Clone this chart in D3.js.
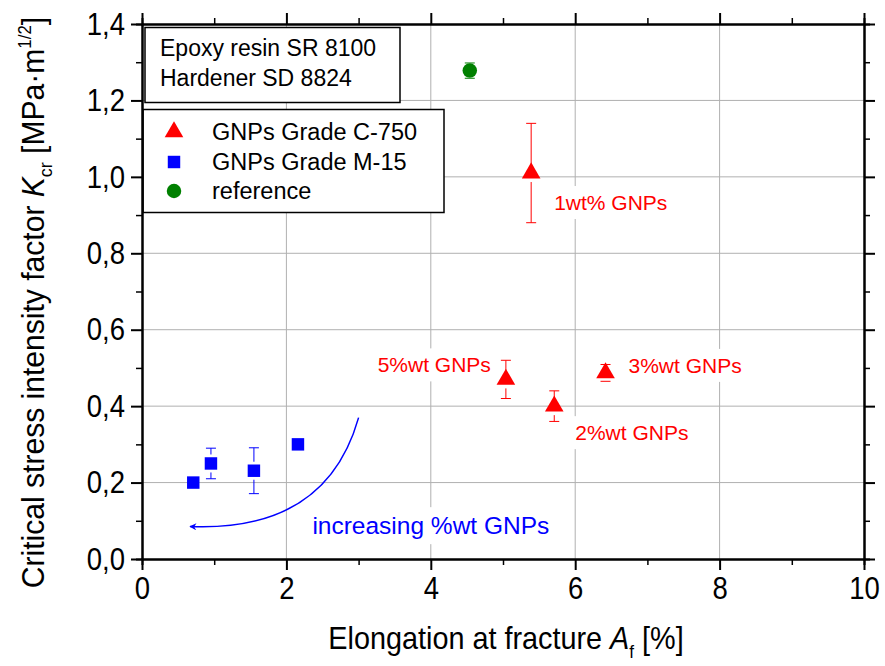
<!DOCTYPE html>
<html>
<head>
<meta charset="utf-8">
<script src="https://cdn.jsdelivr.net/npm/d3@7/dist/d3.min.js"></script>
<style>
body{margin:0;background:#fff}
text{font-family:Arial,"Liberation Sans",Helvetica,sans-serif}
</style>
</head>
<body>
<script>
// values
let c750X=[5.39,5.04,5.71,6.42]
let c750Y=[1.01,0.47,0.40,0.487]
let c750Err=[0.13,0.05,0.04,0.022]
let c750Labels=['1wt% GNPs','5%wt GNPs','2%wt GNPs','3%wt GNPs']

let m15X=[0.71,0.955,1.55,2.16]
let m15Y=[0.20,0.25,0.231,0.30]
let m15Err=[0.01,0.04,0.06,0.01]

let refX=[4.54]
let refY=[1.278]
let refErr=[0.02]

let xTicks=[0,2,4,6,8,10]
let xMinor=[1,3,5,7,9]
let yTicks=[0,0.2,0.4,0.6,0.8,1.0,1.2,1.4]
let yMinor=[0.1,0.3,0.5,0.7,0.9,1.1,1.3]

let boxLines=['Epoxy resin SR 8100','Hardener SD 8824']
let legendNames=['GNPs Grade C-750','GNPs Grade M-15','reference']
let arrowPts=[[3.0,0.37],[2.55,0.07],[0.665,0.085]]
let arrowText='increasing %wt GNPs'

// label offsets in px from their point (layout, not data)
let labelDx=[23,-15,21,23]
let labelDy=[37,-7,34,0]
let labelAnchor=['start','end','start','start']

const W=885,H=666
const x0=142,x1=864,yb=559,yt=24
const squeeze=0.86   // the original lettering of axes is a bit condensed

var svg=d3.select('body').append('svg').attr('width',W).attr('height',H)

var xs=d3.scaleLinear().domain([0,10]).range([x0,x1])
var ys=d3.scaleLinear().domain([0,1.4]).range([yb,yt])

// grid
var grid=svg.append('g')
grid.selectAll('.gx').data(xTicks.slice(1,-1)).enter().append('line')
  .attr('x1',d=>xs(d)).attr('x2',d=>xs(d)).attr('y1',yb).attr('y2',yt)
  .attr('stroke','#b0b0b0').attr('stroke-width',1)
grid.selectAll('.gy').data(yTicks.slice(1,-1)).enter().append('line')
  .attr('y1',d=>ys(d)).attr('y2',d=>ys(d)).attr('x1',x0).attr('x2',x1)
  .attr('stroke','#b0b0b0').attr('stroke-width',1)

// point labels with white backing
function label(g,x,y,txt,anchor,color,size){
  let t=g.append('text').attr('x',x).attr('y',y).attr('text-anchor',anchor)
    .attr('fill',color).style('font-size',size+'px').text(txt)
  let b=t.node().getBBox()
  g.insert('rect','text').attr('x',b.x-4).attr('y',b.y-5).attr('width',b.width+8).attr('height',b.height+10)
    .attr('fill','#fff')
  return t
}
var labs=svg.append('g')
c750Labels.forEach(function(l,i){
  let g=labs.append('g')
  label(g,xs(c750X[i])+labelDx[i],ys(c750Y[i])+labelDy[i],l,labelAnchor[i],'#ff0000',21)
})
label(labs.append('g'),xs(2.36),ys(0.065),arrowText,'start','#0000ff',24.5)

// curved arrow
svg.append('defs').append('marker').attr('id','ah').attr('viewBox','0 0 10 10')
  .attr('refX',9).attr('refY',5).attr('markerWidth',10).attr('markerHeight',7)
  .attr('markerUnits','userSpaceOnUse').attr('orient','auto')
  .append('path').attr('d','M0,0 L10,5 L0,10 L3,5 Z').attr('fill','#0000ff')
var p=arrowPts.map(d=>[xs(d[0]),ys(d[1])])
svg.append('path').attr('d','M'+p[0]+' Q'+p[1]+' '+p[2])
  .attr('fill','none').attr('stroke','#0000ff').attr('stroke-width',1.5)
  .attr('marker-end','url(#ah)')

// boxes
var bx=svg.append('g')
bx.append('rect').attr('x',x0+3).attr('y',yt+3.5).attr('width',255).attr('height',75)
  .attr('fill','#fff').attr('stroke','#000').attr('stroke-width',1.5)
boxLines.forEach(function(l,i){
  bx.append('text').attr('x',x0+18).attr('y',yt+32+i*30).style('font-size','23px').text(l)
})
var lg=svg.append('g')
lg.append('rect').attr('x',x0+1).attr('y',yt+85.5).attr('width',301).attr('height',103)
  .attr('fill','#fff').attr('stroke','#000').attr('stroke-width',1.5)
legendNames.forEach(function(l,i){
  lg.append('text').attr('x',x0+70).attr('y',yt+116+i*29.5).style('font-size','23.5px').text(l)
})
var tri=d3.symbol().type(d3.symbolTriangle).size(150)
var sq=d3.symbol().type(d3.symbolSquare).size(155)
var ci=d3.symbol().type(d3.symbolCircle).size(165)
lg.append('path').attr('d',tri).attr('transform','translate('+(x0+32)+','+(yt+108)+')').attr('fill','#ff0000')
lg.append('path').attr('d',sq).attr('transform','translate('+(x0+32)+','+(yt+138)+')').attr('fill','#0000ff')
lg.append('path').attr('d',ci).attr('transform','translate('+(x0+32)+','+(yt+167)+')').attr('fill','#008000')

// error bars + markers
function series(xv,yv,ev,color,sym){
  let g=svg.append('g')
  xv.forEach(function(xx,i){
    let cx=xs(xx),cy=ys(yv[i]),hi=ys(yv[i]+ev[i]),lo=ys(yv[i]-ev[i])
    if(cy-hi>9){
      g.append('line').attr('x1',cx).attr('x2',cx).attr('y1',hi).attr('y2',cy-9).attr('stroke',color)
      g.append('line').attr('x1',cx).attr('x2',cx).attr('y1',lo).attr('y2',cy+9).attr('stroke',color)
    }
    g.append('line').attr('x1',cx-5).attr('x2',cx+5).attr('y1',hi).attr('y2',hi).attr('stroke',color)
    g.append('line').attr('x1',cx-5).attr('x2',cx+5).attr('y1',lo).attr('y2',lo).attr('stroke',color)
    g.append('path').attr('d',sym).attr('transform','translate('+cx+','+cy+')').attr('fill',color)
  })
}
series(c750X,c750Y,c750Err,'#ff0000',tri)
series(m15X,m15Y,m15Err,'#0000ff',sq)
series(refX,refY,refErr,'#008000',ci)

// axes on four sides, ticks outward
function styleAx(g,w){
  g.select('.domain').attr('stroke-width',2)
  g.selectAll('.tick line').attr('stroke-width',w)
}
let fmtY=d=>d.toFixed(1).replace('.',',')
var ax=svg.append('g')
let axB=ax.append('g').attr('transform','translate(0,'+yb+')')
  .call(d3.axisBottom(xs).tickValues(xTicks).tickSize(11).tickSizeOuter(0).tickPadding(6))
axB.selectAll('text').style('font-size','32px').attr('fill','#000')
  .attr('transform','scale('+squeeze+',1)')
styleAx(axB,2)
let axBm=ax.append('g').attr('transform','translate(0,'+yb+')')
  .call(d3.axisBottom(xs).tickValues(xMinor).tickSize(6).tickFormat(''))
styleAx(axBm,1.5)
let axT=ax.append('g').attr('transform','translate(0,'+yt+')')
  .call(d3.axisTop(xs).tickValues(xTicks).tickSize(11).tickSizeOuter(0).tickFormat(''))
styleAx(axT,2)
let axTm=ax.append('g').attr('transform','translate(0,'+yt+')')
  .call(d3.axisTop(xs).tickValues(xMinor).tickSize(6).tickFormat(''))
styleAx(axTm,1.5)
let axL=ax.append('g').attr('transform','translate('+x0+',0)')
  .call(d3.axisLeft(ys).tickValues(yTicks).tickSize(11).tickSizeOuter(0).tickPadding(6).tickFormat(fmtY))
axL.selectAll('text').style('font-size','32px').attr('fill','#000')
  .attr('x',-17/squeeze).attr('transform','scale('+squeeze+',1)')
styleAx(axL,2)
let axLm=ax.append('g').attr('transform','translate('+x0+',0)')
  .call(d3.axisLeft(ys).tickValues(yMinor).tickSize(6).tickFormat(''))
styleAx(axLm,1.5)
let axR=ax.append('g').attr('transform','translate('+x1+',0)')
  .call(d3.axisRight(ys).tickValues(yTicks).tickSize(11).tickSizeOuter(0).tickFormat(''))
styleAx(axR,2)
let axRm=ax.append('g').attr('transform','translate('+x1+',0)')
  .call(d3.axisRight(ys).tickValues(yMinor).tickSize(6).tickFormat(''))
styleAx(axRm,1.5)

// axis titles
let xt=svg.append('text').attr('transform','translate('+((x0+x1)/2+3)+',649) scale(0.9,1)')
  .attr('text-anchor','middle').style('font-size','32px')
xt.append('tspan').text('Elongation at fracture ')
xt.append('tspan').style('font-style','italic').text('A')
xt.append('tspan').attr('dy',9).style('font-size','19px').text('f')
xt.append('tspan').attr('dy',-9).text(' [%]')

let yl=svg.append('text').attr('transform','translate(44,'+((yt+yb)/2+11)+') rotate(-90) scale(0.94,1)')
  .attr('text-anchor','middle').style('font-size','32px')
yl.append('tspan').text('Critical stress intensity factor ')
yl.append('tspan').style('font-style','italic').text('K')
yl.append('tspan').attr('dy',8).style('font-size','19px').text('cr')
yl.append('tspan').attr('dy',-8).text(' [MPa·m')
yl.append('tspan').attr('dy',-13).style('font-size','18px').text('1/2')
yl.append('tspan').attr('dy',13).text(']')
</script>
</body>
</html>
